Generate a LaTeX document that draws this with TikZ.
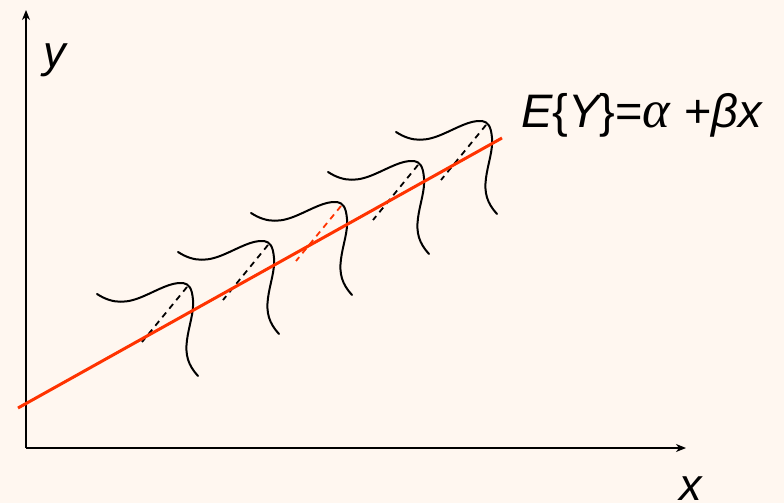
\documentclass[tikz,border=0pt]{standalone}
\usepackage{fontspec}
\setmainfont{Liberation Sans}
\newfontfamily\grkfont[Scale=1.12]{Liberation Serif}
\usetikzlibrary{arrows.meta,calc}
\definecolor{bg}{RGB}{255,247,240}
\definecolor{redline}{RGB}{255,51,0}
\tikzset{
  dens/.pic={
    \draw[curve] (-89,9) .. controls (-72,20) and (-58,18) .. (-42,11)
      .. controls (-28,5) and (-15,-3) .. (-3,-2)
      .. controls (3,-1) and (6,3) .. (7,15)
      .. controls (8,28) and (3,40) .. (1,55)
      .. controls (-1,70) and (2,80) .. (12,91);
  }
}
\begin{document}
\begin{tikzpicture}[x=1pt,y=-1pt,
  curve/.style={line width=2pt, black, line cap=round},
  guide/.style={line width=1.8pt, dash pattern=on 6pt off 5pt},
  axis/.style={line width=1.2pt, -{Stealth[length=10pt,width=8pt,inset=3pt]}},
  lbl/.style={font=\fontsize{45}{50}\selectfont\itshape, inner sep=0pt},
  eqlbl/.style={font=\fontsize{47}{52}\selectfont\itshape, inner sep=0pt}]
\fill[bg] (0,0) rectangle (784,503);
\useasboundingbox (0,0) rectangle (784,503);
% axes
\coordinate (O) at (26,448);
\coordinate (ytip) at (26,10);
\coordinate (xtip) at (686,448);
\draw[axis] (O) -- (ytip);
\draw[axis] (O) -- (xtip);
\node[lbl, anchor=base west] (ylab) at (43,67) {y};
\node[lbl, anchor=base west] (xlab) at (679,500) {x};
% density curves
\foreach \n/\p in {1/{186,285},2/{267,243},3/{340,204},4/{417,163},5/{485,123}}{
  \coordinate (c\n) at (\p);
  \pic at (c\n) {dens};
}
% dashed guides
\foreach \n/\col in {1/black,2/black,3/redline,4/black,5/black}{
  \draw[guide, \col] ($(c\n)+(1,2)$) -- ($(c\n)+(-44,57)$);
}
% regression line
\coordinate (L1) at (18,408);
\coordinate (L2) at (502,138);
\draw[redline, line width=3pt] (L1) -- (L2);
\node[eqlbl, anchor=base west] (eq) at (521,127)
  {E{\upshape\{}Y{\upshape\}=}{\grkfont\itshape α}\hspace{14pt}{\upshape +}βx};
\end{tikzpicture}
\end{document}
